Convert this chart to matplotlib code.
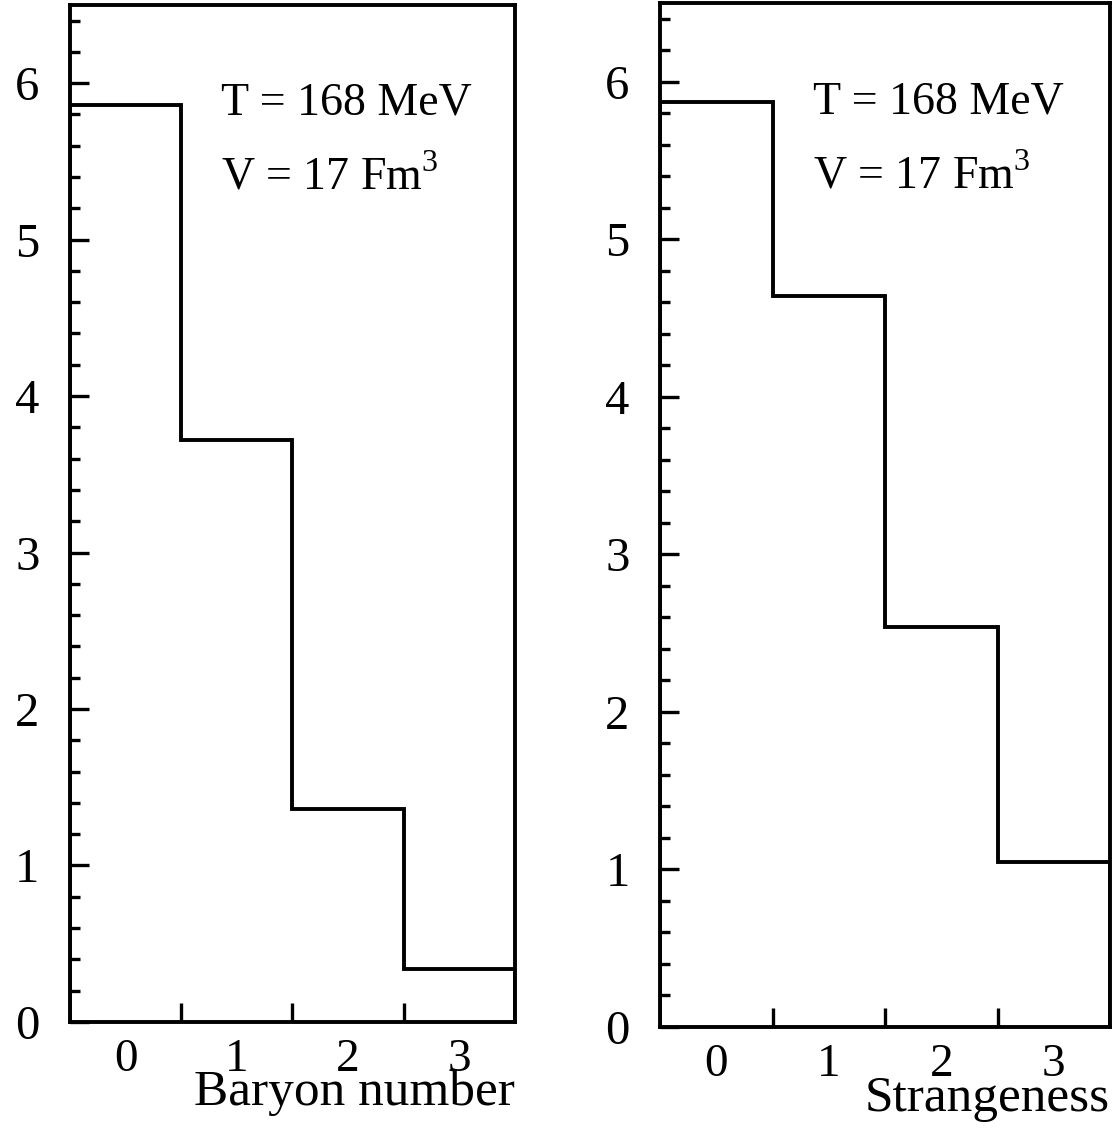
import matplotlib.pyplot as plt
import numpy as np
from matplotlib.ticker import MultipleLocator, FixedLocator

plt.rcParams['font.family'] = ['Liberation Serif', 'DejaVu Serif']
plt.rcParams['mathtext.fontset'] = 'custom'
plt.rcParams['mathtext.rm'] = 'Liberation Serif'

# bin centres and heights
charges = [0, 1, 2, 3]
baryon = [5.86, 3.72, 1.36, 0.34]
strange = [5.87, 4.64, 2.54, 1.05]
ticks_y = [0, 1, 2, 3, 4, 5, 6]

fig = plt.figure(figsize=(11.15, 11.31), dpi=100)
ax1 = fig.add_axes([0.0628, 0.0964, 0.399, 0.8993])
ax2 = fig.add_axes([0.592, 0.0920, 0.4036, 0.9055])


def panel(ax, vals, xlab):
    edges = np.arange(len(vals) + 1) - 0.5
    ax.stairs(vals, edges, color='black', linewidth=2.8)
    ax.set_xlim(-0.5, 3.5)
    ax.set_ylim(0, 6.5)
    for s in ax.spines.values():
        s.set_linewidth(2.8)
    ax.set_yticks(ticks_y)
    ax.yaxis.set_minor_locator(MultipleLocator(0.2))
    ax.tick_params(axis='y', which='major', direction='in', length=14,
                   width=2.4, labelsize=35, pad=22)
    ax.tick_params(axis='y', which='minor', direction='in', length=7, width=2.4)
    ax.set_xticks(charges)
    ax.set_xticklabels([str(c) for c in charges])
    ax.xaxis.set_minor_locator(FixedLocator(edges[1:-1]))
    ax.tick_params(axis='x', which='major', length=0, labelsize=34, pad=12)
    ax.tick_params(axis='x', which='minor', direction='in', length=14, width=2.4)
    ax.text(1.0, -0.047, xlab, transform=ax.transAxes, ha='right', va='top',
            fontsize=37)
    ax.text(0.34, 0.903, 'T = 168 MeV', transform=ax.transAxes, fontsize=33,
            va='center')
    ax.text(0.34, 0.83, r'V = 17 Fm$^{\mathrm{3}}$', transform=ax.transAxes,
            fontsize=33, va='center')


panel(ax1, baryon, 'Baryon number')
panel(ax2, strange, 'Strangeness')

fig.savefig('out.png', dpi=100)
